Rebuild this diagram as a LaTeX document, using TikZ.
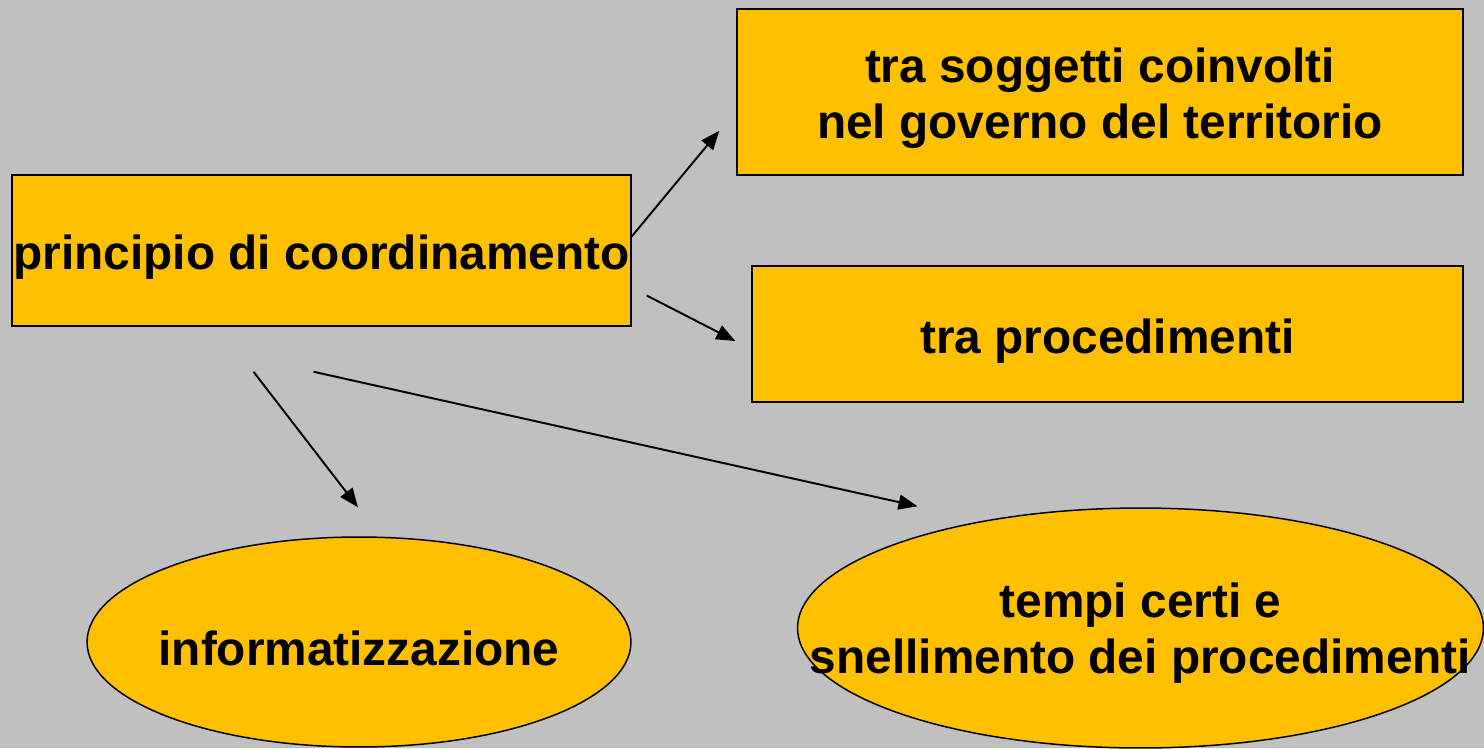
\documentclass[tikz,border=0pt]{standalone}
\usepackage{fontspec}
\setmainfont{Liberation Sans}
\usetikzlibrary{calc,shapes.geometric,arrows.meta}

\definecolor{bggray}{HTML}{C0C0C0}
\definecolor{boxgold}{HTML}{FFC000}

\begin{document}
\begin{tikzpicture}[x=0.02cm,y=-0.02cm,
  label/.style={font=\fontsize{27.2}{31.8}\selectfont\bfseries,align=center,inner sep=0},
  box/.style={draw,fill=boxgold,line width=0.85pt,inner sep=0},
  oval/.style={box,ellipse},
  arr/.style={-{Triangle[length=0.38cm,width=0.3cm]},line width=1.1pt}]

% Background
\fill[bggray] (0,0) rectangle (1484,748);
\useasboundingbox (0,0) rectangle (1484,748);

% Boxes
\node[box,minimum width=12.38cm,minimum height=3.02cm] (principio) at (321.5,250.5) {};
\node[box,minimum width=14.52cm,minimum height=3.32cm] (soggetti) at (1100,92) {};
\node[box,minimum width=14.22cm,minimum height=2.72cm] (procedimenti) at (1107.5,334) {};

% Ellipses
\node[oval,minimum width=10.88cm,minimum height=4.2cm] (info) at (359,642) {};
\node[oval,minimum width=13.72cm,minimum height=4.8cm] (tempi) at (1140.5,628) {};

% Texts (set on top, they are wider than the ellipses allow)
\node[label] (principio-text) at ($(principio)+(0,7)$) {principio di coordinamento};
\node[label] (soggetti-text) at ($(soggetti)+(0,6)$) {tra soggetti coinvolti\\nel governo del territorio};
\node[label] (procedimenti-text) at ($(procedimenti)+(0,7)$) {tra procedimenti};
\node[label] (info-text) at ($(info)+(0,6)$) {informatizzazione};
\node[label] (tempi-text) at ($(tempi)+(0,5)$) {tempi certi e\\snellimento dei procedimenti};

% Arrows
\draw[arr] ($(principio.east)+(0,-14)$) -- ($(soggetti.south west)+(-17,-45)$);
\draw[arr] ($(principio.east)+(15,45)$) -- ($(procedimenti.west)+(-16,7)$);
\draw[arr] ($(principio.south)+(-68,45)$) -- ($(info.north)+(-1,-29)$);
\draw[arr] ($(principio.south)+(-8,45)$) -- ($(tempi.north)+(-223,-1)$);

\end{tikzpicture}
\end{document}
